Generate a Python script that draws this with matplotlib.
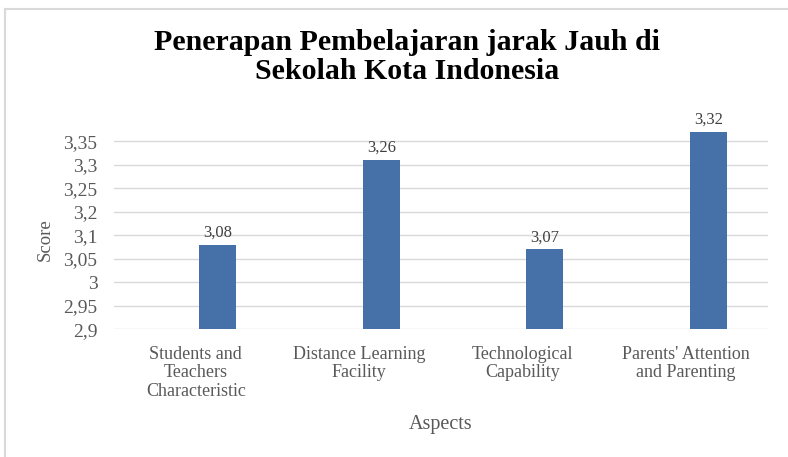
import numpy as np
import matplotlib
matplotlib.use("Agg")
import matplotlib.pyplot as plt
from matplotlib.lines import Line2D

# chart data
categories = ["Students and\nTeachers\nCharacteristic", "Distance Learning\nFacility",
              "Technological\nCapability", "Parents' Attention\nand Parenting"]
scores = [3.08, 3.26, 3.07, 3.32]
value_labels = ["3,08", "3,26", "3,07", "3,32"]
tick_values = [2.9, 2.95, 3.0, 3.05, 3.1, 3.15, 3.2, 3.25, 3.3]
tick_labels = ["2,9", "2,95", "3", "3,05", "3,1", "3,2", "3,25", "3,3", "3,35"]

plt.rcParams['font.family'] = ['Liberation Serif', 'DejaVu Serif']
grey = '#595959'

fig = plt.figure(figsize=(7.88, 4.57), dpi=100)
ax = fig.add_axes([0.1447, 0.2794, 0.8299, 0.4628])

# bars sit right of the category centre, like the original
x = np.arange(len(categories))
bar_w = 0.226
offset = 0.135
bars = ax.bar(x + offset, [s - 2.9 for s in scores], bar_w, bottom=2.9,
              color='#4670a8', zorder=3)

for rect, lab in zip(bars, value_labels):
    ax.annotate(lab, (rect.get_x() + rect.get_width() / 2, rect.get_y() + rect.get_height()),
                xytext=(0, 3), textcoords='offset points', ha='center', va='bottom',
                fontsize=12, color='#404040')

ax.set_xlim(-0.5, 3.5)
ax.set_ylim(2.9, 3.35)
ax.set_yticks(tick_values)
ax.set_yticklabels(tick_labels)
ax.set_xticks(x)
ax.set_xticklabels(categories, fontsize=13, color=grey, linespacing=1.1)
ax.tick_params(axis='y', length=0, pad=12, labelsize=14, labelcolor=grey)
ax.tick_params(axis='x', length=0, pad=12)
ax.grid(axis='y', color='#d9d9d9', linewidth=1, zorder=0)
for s in ax.spines.values():
    s.set_visible(False)

fig.text(0.517, 1 - 57 / 457, "Penerapan Pembelajaran jarak Jauh di\nSekolah Kota Indonesia",
         ha='center', va='center', fontsize=21.5, fontweight='bold', linespacing=1.1)
fig.text(0.559, 1 - 425 / 457, "Aspects", ha='center', va='center', fontsize=14.5, color=grey)
fig.text(45 / 788, 1 - 240 / 457, "Score", ha='center', va='center', rotation=90,
         fontsize=13.5, color=grey)

# thin border at top and left like the screenshot
fig.add_artist(Line2D([5 / 788, 5 / 788], [0, 1 - 9 / 457], transform=fig.transFigure,
                      color='#d9d9d9', linewidth=1.5))
fig.add_artist(Line2D([5 / 788, 1], [1 - 9 / 457, 1 - 9 / 457], transform=fig.transFigure,
                      color='#d9d9d9', linewidth=1.5))

fig.savefig("out.png", dpi=100)
